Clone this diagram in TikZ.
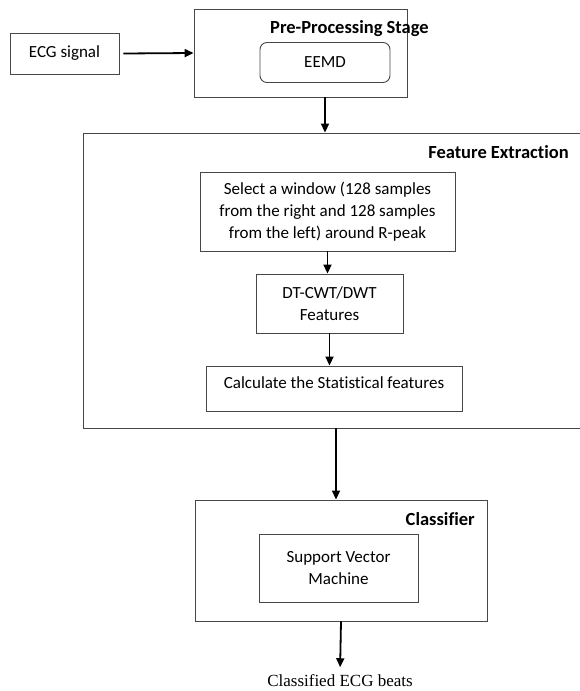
\documentclass[tikz,border=0pt]{standalone}
\usepackage{fontspec}
\setmainfont{Carlito}[Ligatures={NoCommon}]
\newfontfamily\serifface{Liberation Serif}[Ligatures={NoCommon}]
\usetikzlibrary{arrows.meta}

\tikzset{
  box/.style={draw=black!72, line width=0.9pt, align=center, inner sep=0pt, font=\fontsize{17}{22}\selectfont},
  stagetitle/.style={inner sep=0pt, font=\fontsize{18.5}{22}\selectfont\bfseries},
  flow/.style={-{Triangle[length=9pt,width=8pt]}, line width=1.8pt},
}

\begin{document}
\begin{tikzpicture}[x=1pt,y=-1pt]
\useasboundingbox (0,0) rectangle (580,691);

\node[box, minimum width=109, minimum height=41] (ecg) at (64.5,53.5) {ECG signal}; % input
\node[box, minimum width=213, minimum height=88] (pre) at (300.5,53) {}; % pre-processing
\node[stagetitle, anchor=west] (pretitle) at (270,29) {Pre-Processing Stage};
\node[box, rounded corners=7pt, minimum width=130, minimum height=40] (eemd) at (325,62.5) {EEMD};

\node[box, minimum width=499, minimum height=295] (feat) at (332.5,280.5) {}; % feature extraction
\node[stagetitle, anchor=east] (feattitle) at (569,152) {Feature Extraction};
\node[box, minimum width=255, minimum height=79] (select) at (327.5,211.5) {Select a window (128 samples\\from the right and 128 samples\\from the left) around R-peak};
\node[box, minimum width=147, minimum height=59] (dtcwt) at (329.5,303.5) {DT-CWT/DWT\\Features};
\node[box, minimum width=256, text height=14.5pt, text depth=15.5pt, inner ysep=7.5pt] (calc) at (334,388.5) {Calculate the Statistical features};

\node[box, minimum width=292, minimum height=121] (cls) at (341,560.5) {}; % classifier
\node[stagetitle, anchor=east] (clstitle) at (475,519) {Classifier};
\node[box, minimum width=159, minimum height=68] (svm) at (338.5,568) {Support Vector\\Machine};

\node[inner sep=0pt, font=\serifface\fontsize{17}{20}\selectfont] (out) at (340,680.5) {Classified ECG beats};

\draw[flow] ([xshift=4pt]ecg.east) -- (pre.west);
\draw[flow] (pre.south -| eemd.south) -- (feat.north -| eemd.south);
\draw[flow] (select.south) -- (select.south |- dtcwt.north);
\draw[flow] (dtcwt.south) -- (dtcwt.south |- calc.north);
\draw[flow] ([xshift=3.5pt]feat.south) -- ([xshift=3.5pt]feat.south |- cls.north);
\draw[flow, shorten >=7pt] (cls.south) -- (out.north);

\end{tikzpicture}
\end{document}
